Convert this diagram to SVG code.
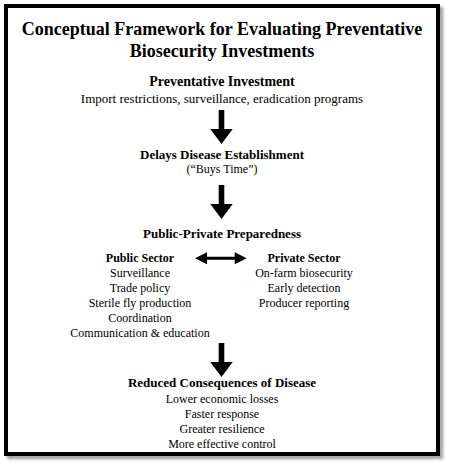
<svg xmlns="http://www.w3.org/2000/svg" xmlns:xlink="http://www.w3.org/1999/xlink" width="450" height="470" viewBox="0 0 450 470">
<style>
text{font-family:"Liberation Serif","Times New Roman",serif;fill:#000;text-anchor:middle}
.title{font-size:18px;font-weight:bold}
.head{font-size:13px;font-weight:bold}
.head14{font-size:14px;font-weight:bold}
.sub{font-size:12px;font-weight:bold}
.body{font-size:13px}
.item{font-size:12px}
.arrow{fill:#000}
</style>
<defs>
<filter id="shadow" x="-5%" y="-5%" width="110%" height="110%">
<feGaussianBlur stdDeviation="1.5"/>
</filter>
<path id="down" d="M-2.8,0 H2.8 V19 H11.2 L0,34 L-11.2,19 H-2.8 Z"/>
</defs>
<rect width="450" height="470" fill="#fff"/>
<g id="frame">
<rect x="9" y="9" width="432" height="448" fill="none" stroke="#999" stroke-width="4" filter="url(#shadow)"/>
<rect x="6" y="6" width="432" height="448" fill="#fff" stroke="#000" stroke-width="4"/>
</g>
<g id="title">
<text class="title" x="222" y="35">Conceptual Framework for Evaluating Preventative</text>
<text class="title" x="222" y="57">Biosecurity Investments</text>
</g>
<g id="node-investment">
<text class="head14" x="222" y="86">Preventative Investment</text>
<text class="body" x="222" y="103">Import restrictions, surveillance, eradication programs</text>
</g>
<g id="node-delay">
<text class="head" x="222" y="159">Delays Disease Establishment</text>
<text class="item" x="222" y="173">(“Buys Time”)</text>
</g>
<g id="node-preparedness">
<text class="head" x="222" y="238">Public-Private Preparedness</text>
</g>
<g id="node-public">
<text class="sub" x="140" y="262">Public Sector</text>
<text class="item" x="140" y="277">Surveillance</text>
<text class="item" x="140" y="292">Trade policy</text>
<text class="item" x="140" y="307">Sterile fly production</text>
<text class="item" x="140" y="322">Coordination</text>
<text class="item" x="140" y="337">Communication &amp; education</text>
</g>
<g id="node-private">
<text class="sub" x="304" y="262">Private Sector</text>
<text class="item" x="304" y="277">On-farm biosecurity</text>
<text class="item" x="304" y="292">Early detection</text>
<text class="item" x="304" y="307">Producer reporting</text>
</g>
<g id="node-consequences">
<text class="head" x="222" y="387">Reduced Consequences of Disease</text>
<text class="item" x="222" y="403">Lower economic losses</text>
<text class="item" x="222" y="418">Faster response</text>
<text class="item" x="222" y="433">Greater resilience</text>
<text class="item" x="222" y="448">More effective control</text>
</g>
<g id="connectors" class="arrow">
<use xlink:href="#down" transform="translate(221.5,110)"/>
<use xlink:href="#down" transform="translate(221.5,185)"/>
<use xlink:href="#down" transform="translate(221.5,343)"/>
<path d="M195,258.3 L207,252.3 V256.8 H234.7 V252.3 L246.7,258.3 L234.7,264.3 V259.8 H207 V264.3 Z"/>
</g>
</svg>
